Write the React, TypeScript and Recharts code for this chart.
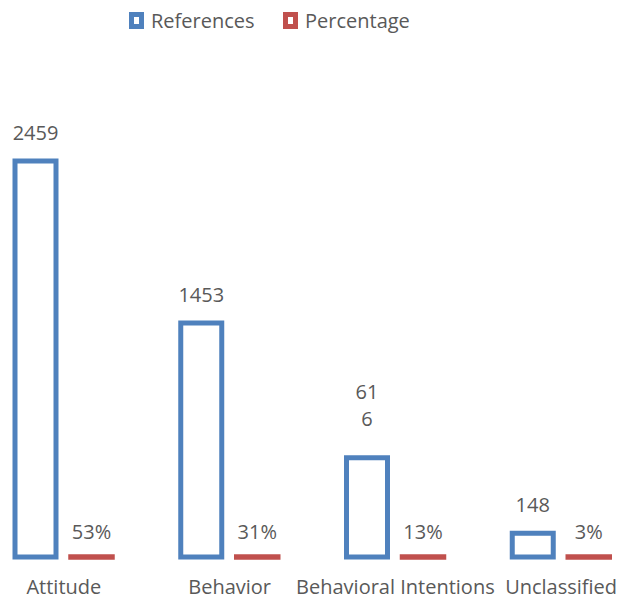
import { BarChart, Bar, XAxis, YAxis, Legend, LabelList } from 'recharts';

// values
const categories = ['Attitude', 'Behavior', 'Behavioral Intentions', 'Unclassified'];
const references = [2459, 1453, 616, 148];
const percentages = [0.53, 0.31, 0.13, 0.03];
// the 616 label is wrapped onto two lines in the original
const referenceLabels = ['2459', '1453', '61\n6', '148'];

const data = categories.map((name, i) => ({
  name,
  references: references[i],
  percentage: percentages[i],
}));

const BLUE = '#4f81bd';
const RED = '#c0504d';
const TEXT = '#595959';
const FONT = '"Open Sans", sans-serif';
const SHIFT = 40; // chart is wider than the frame, left part cropped like the original

const seriesOrder = ['references', 'percentage'];
const seriesColor: Record<string, string> = { references: BLUE, percentage: RED };

function RefLabel(props: any) {
  const vb = props.viewBox ?? props;
  const { x, y, width } = vb;
  const lines = (referenceLabels[props.index] ?? String(props.value)).split('\n');
  const cx = x + width / 2;
  const last = y - (lines.length > 1 ? 32 : 21);
  return (
    <text x={cx} textAnchor="middle" fontSize={20} fill={TEXT} fontFamily={FONT}>
      {lines.map((l, i) => (
        <tspan key={i} x={cx} y={last - (lines.length - 1 - i) * 26.5}>
          {l}
        </tspan>
      ))}
    </text>
  );
}

function renderLegend(props: any) {
  const items = [...(props.payload ?? [])].sort(
    (a: any, b: any) => seriesOrder.indexOf(a.dataKey) - seriesOrder.indexOf(b.dataKey)
  );
  const slots = [129 + SHIFT, 283 + SHIFT];
  return (
    <svg
      width={700}
      height={40}
      style={{ position: 'absolute', top: 0, left: 0, overflow: 'visible' }}
    >
      {items.map((item: any, i: number) => (
        <g key={item.value}>
          <rect
            x={slots[i] + 2.5}
            y={14.5}
            width={10}
            height={12}
            fill="#fff"
            stroke={seriesColor[item.dataKey] ?? item.color}
            strokeWidth={5}
          />
          <text x={slots[i] + 22} y={28.3} fontSize={20} fill={TEXT} fontFamily={FONT}>
            {item.value}
          </text>
        </g>
      ))}
    </svg>
  );
}

export default function App() {
  return (
    <div
      style={{
        position: 'absolute',
        top: 0,
        left: 0,
        width: 619,
        height: 599,
        overflow: 'hidden',
        background: '#fff',
      }}
    >
      <BarChart
        width={700}
        height={599}
        data={data}
        margin={{ top: 74, right: 16, left: 21, bottom: 0 }}
        barSize={41}
        barGap={15}
        style={{ position: 'absolute', left: -SHIFT, top: 0 }}
      >
        <XAxis
          dataKey="name"
          axisLine={false}
          tickLine={false}
          interval={0}
          height={42}
          tickMargin={17}
          tick={{ fontSize: 20, fill: TEXT, fontFamily: FONT }}
        />
        <YAxis hide domain={[0, 3000]} />
        <Legend
          verticalAlign="top"
          content={renderLegend}
          wrapperStyle={{ top: 0, left: 0 }}
        />
        <Bar
          dataKey="references"
          name="References"
          fill="#fff"
          stroke={BLUE}
          strokeWidth={5}
          isAnimationActive={false}
        >
          <LabelList dataKey="references" content={RefLabel} />
        </Bar>
        <Bar
          dataKey="percentage"
          name="Percentage"
          fill={RED}
          stroke={RED}
          strokeWidth={5.5}
          isAnimationActive={false}
        >
          <LabelList
            dataKey="percentage"
            position="top"
            offset={18}
            formatter={(v: any) => `${Math.round(Number(v) * 100)}%`}
            fontSize={20}
            fill={TEXT}
            fontFamily={FONT}
          />
        </Bar>
      </BarChart>
    </div>
  );
}
